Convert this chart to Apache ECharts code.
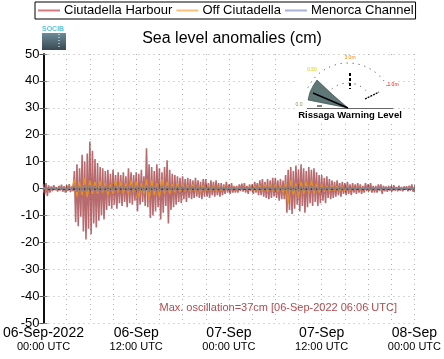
<!DOCTYPE html>
<html><head><meta charset="utf-8">
<script src="https://cdn.jsdelivr.net/npm/echarts@6/dist/echarts.min.js"></script>
<style>html,body{margin:0;padding:0;background:#fff}#c{width:444px;height:359px}</style>
</head><body><div id="c"></div>
<script>
// Series names
const seriesNames = ['Ciutadella Harbour', 'Off Ciutadella', 'Menorca Channel'];
// X tick labels (every 12 h from 06-Sep-2022 00:00 UTC)
const dayLabels = ['06-Sep-2022', '06-Sep', '07-Sep', '07-Sep', '08-Sep'];
const timeLabels = ['00:00 UTC', '12:00 UTC', '00:00 UTC', '12:00 UTC', '00:00 UTC'];
const yTicks = [-50, -40, -30, -20, -10, 0, 10, 20, 30, 40, 50];
// Ciutadella Harbour, cm, one value every 10 min from hour 0
const harbourStepH = 1 / 6;
const harbour = [
 1.5,-2.2,2.0,-2.8,1.2,-1.5,
 0.8,-1.0,1.2,-0.6,0.5,-1.1,
 1.0,-0.8,1.4,-1.2,0.9,-1.5,
 1.2,-0.9,1.6,-1.3,0.8,-1.0,
 6.5,-12.5,9.0,-14.0,7.5,-10.5,
 12.5,-16.0,10.0,-19.0,13.0,-15.0,
 17.5,-17.0,14.0,-13.0,11.0,-14.5,
 9.5,-12.0,8.0,-10.0,7.5,-11.5,
 6.5,-8.0,7.0,-6.5,5.5,-7.5,
 7.0,-6.0,5.0,-7.5,6.0,-5.5,
 5.0,-6.5,6.0,-5.0,4.5,-7.0,
 7.5,-5.5,6.0,-6.0,5.0,-4.5,
 6.0,-8.5,5.5,-6.0,7.0,-5.0,
 4.5,-6.5,15.0,-7.0,9.0,-11.0,
 8.0,-10.0,6.5,-8.5,9.0,-7.0,
 7.5,-11.5,6.0,-9.0,8.0,-6.5,
 10.5,-13.0,7.0,-8.0,5.5,-7.0,
 5.0,-6.0,4.5,-5.0,4.0,-5.5,
 4.5,-4.0,3.5,-5.0,4.0,-3.5,
 3.5,-4.0,3.0,-3.5,4.0,-3.0,
 3.0,-3.5,2.5,-4.0,3.5,-3.0,
 3.5,-3.0,2.0,-3.5,3.0,-2.5,
 2.5,-3.0,3.0,-2.5,2.0,-3.0,
 2.0,-2.5,1.5,-2.0,2.5,-1.5,
 1.5,-2.0,2.0,-1.5,1.0,-1.5,
 1.0,-1.5,1.5,-1.0,1.8,-1.2,
 2.0,-1.5,1.0,-2.0,1.5,-1.0,
 1.5,-2.0,2.5,-1.5,2.0,-2.5,
 3.0,-2.5,3.5,-3.0,2.5,-3.5,
 3.5,-4.0,3.0,-3.5,4.0,-3.0,
 4.0,-3.5,3.0,-4.5,3.5,-4.0,
 3.0,-4.0,5.0,-9.0,7.0,-8.0,
 8.0,-9.5,6.5,-7.5,8.5,-6.0,
 7.0,-8.5,9.0,-6.5,7.5,-9.0,
 6.5,-7.0,8.0,-5.5,7.0,-6.5,
 7.5,-5.0,6.0,-6.5,5.0,-5.5,
 5.0,-4.5,4.0,-5.5,4.5,-3.5,
 3.5,-4.0,3.0,-3.5,2.5,-3.0,
 3.0,-2.5,2.0,-3.0,2.5,-2.0,
 2.0,-2.5,2.5,-2.0,1.5,-2.5,
 2.0,-1.5,1.5,-2.0,2.0,-1.5,
 1.5,-2.0,1.0,-1.5,2.0,-1.0,
 1.5,-1.0,2.0,-1.5,1.0,-1.5,
 1.0,-1.5,1.5,-1.0,1.5,-2.0,
 1.0,-1.0,0.8,-1.2,1.0,-0.8,
 0.8,-1.0,1.2,-0.8,0.6,-1.0,
 1.0,-0.8,0.6,-1.0,0.8,-0.6,
 0.8,-1.0,1.0,-0.8,1.5,-1.2,
 0.5
];
// Off Ciutadella, cm, one value every 20 min
const offStepH = 1 / 3;
const offCiutadella = [
 0.5,-0.6,0.4, -0.3,0.4,-0.5, 0.5,-0.4,0.6, -0.5,0.4,-0.6,
 3.5,-3.0,2.5, -2.5,3.8,-3.2, 3.0,-2.0,2.5, -2.0,2.8,-1.5,
 2.0,-2.5,1.5, -2.0,3.0,-1.5, 2.5,-1.8,2.0, -2.2,3.0,-1.5,
 2.5,-3.5,2.0, -2.0,3.5,-4.0, 3.0,-2.5,2.0, -3.0,3.5,-2.0,
 2.5,-2.0,1.5, -1.5,2.0,-1.2, 1.5,-1.0,1.2, -1.2,1.5,-1.0,
 1.0,-1.5,1.2, -1.0,1.2,-0.8, 1.0,-0.8,0.6, -0.8,0.7,-0.5,
 0.6,-0.5,0.7, -0.6,0.5,-0.4, 0.6,-0.5,0.8, -0.7,1.0,-0.8,
 1.2,-1.0,1.5, -1.2,1.5,-1.0, 1.5,-1.3,1.0, -1.5,1.8,-5.5,
 3.0,-2.5,2.0, -3.0,2.5,-2.0, 2.5,-2.0,3.0, -2.0,1.8,-1.5,
 1.5,-1.2,1.0, -1.0,1.2,-0.8, 0.8,-1.0,0.7, -0.8,0.6,-0.7,
 0.6,-0.5,0.7, -0.6,0.5,-0.4, 0.5,-0.6,0.4, -0.5,0.4,-0.5,
 0.4,-0.3,0.4, -0.4,0.3,-0.4, 0.3,-0.4,0.3, -0.3,0.4,-0.3,
 0.2
];
// Menorca Channel, cm, one value every 20 min
const channelStepH = 1 / 3;
const menorcaChannel = [
 0.2,-0.3,0.3, -0.2,0.2,-0.3, 0.3,-0.2,0.2, -0.3,0.2,-0.2,
 1.0,-1.2,0.8, -1.0,1.3,-0.9, 1.2,-0.8,1.0, -1.0,0.8,-0.7,
 0.8,-0.9,0.6, -0.7,0.9,-0.6, 0.8,-0.6,0.7, -0.8,1.0,-0.6,
 0.9,-1.0,0.7, -0.8,1.1,-1.0, 0.9,-0.8,0.7, -0.9,1.0,-0.7,
 0.8,-0.7,0.6, -0.6,0.7,-0.5, 0.6,-0.5,0.5, -0.5,0.6,-0.4,
 0.5,-0.5,0.4, -0.4,0.5,-0.4, 0.4,-0.3,0.3, -0.3,0.3,-0.2,
 0.2,-0.2,0.3, -0.2,0.2,-0.2, 0.3,-0.2,0.3, -0.3,0.4,-0.3,
 0.4,-0.4,0.5, -0.4,0.5,-0.4, 0.5,-0.5,0.4, -0.5,0.6,-0.9,
 0.9,-0.8,0.8, -0.9,0.8,-0.7, 0.8,-0.7,0.9, -0.7,0.6,-0.6,
 0.5,-0.5,0.4, -0.4,0.5,-0.3, 0.3,-0.4,0.3, -0.3,0.3,-0.3,
 0.3,-0.2,0.3, -0.2,0.2,-0.2, 0.2,-0.3,0.2, -0.2,0.2,-0.2,
 0.2,-0.2,0.2, -0.2,0.2,-0.2, 0.2,-0.2,0.2, -0.2,0.2,-0.2,
 0.1
];
const maxText = 'Max. oscillation=37cm [06-Sep-2022 06:06 UTC]';

const toPairs = (arr, step) => arr.map((v, i) => [i * step, v]);
const FONT = '"Liberation Sans", Arial, sans-serif';

const chart = echarts.init(document.getElementById('c'), null, {renderer: 'canvas'});
const gridLine = {show: true, lineStyle: {color: '#b0b0b0', type: [1, 4], width: 1}};
const option = {
  animation: false,
  textStyle: {fontFamily: FONT},
  title: {text: 'Sea level anomalies (cm)', left: 227, textAlign: 'center', top: 26,
    textStyle: {fontSize: 16, fontWeight: 'normal', color: '#000', fontFamily: FONT}},
  legend: {
    left: 35, top: 2, width: 409,
    borderColor: '#000', borderWidth: 1, padding: [2, 2, 2, 3],
    itemGap: 4, itemWidth: 22, itemHeight: 2, icon: 'rect',
    textStyle: {fontSize: 13, color: '#000', fontFamily: FONT, padding: [0, 0, 0, -1]},
    data: [
      {name: seriesNames[0], itemStyle: {color: '#d27a80'}},
      {name: seriesNames[1], itemStyle: {color: '#f6c078'}},
      {name: seriesNames[2], itemStyle: {color: '#a9b0d6'}}
    ]
  },
  grid: {left: 37.5, right: 29, top: 54, bottom: 36},
  xAxis: [{
    type: 'value', min: 0, max: 48, interval: 3,
    axisLine: {lineStyle: {color: '#000', width: 1.5}},
    axisTick: {inside: true, length: 4, lineStyle: {color: '#888'}},
    splitLine: gridLine,
    axisLabel: {
      margin: 3, interval: 0, showMinLabel: true, showMaxLabel: true,
      formatter: v => (v % 12 === 0) ? '{a|' + dayLabels[v / 12] + '}\n{b|' + timeLabels[v / 12] + '}' : '',
      rich: {
        a: {fontSize: 14, lineHeight: 14, color: '#000', fontFamily: FONT, align: 'center'},
        b: {fontSize: 11, lineHeight: 13, color: '#000', fontFamily: FONT, align: 'center'}
      }
    }
  }, {
    type: 'value', min: 0, max: 48, interval: 3, position: 'top',
    axisLine: {show: true, lineStyle: {color: '#000', width: 1.5}},
    axisTick: {show: true, inside: true, length: 4, lineStyle: {color: '#888'}},
    axisLabel: {show: false}, splitLine: {show: false}
  }],
  yAxis: [{
    type: 'value', min: yTicks[0], max: yTicks[yTicks.length - 1], interval: 10,
    axisLine: {show: true, lineStyle: {color: '#000', width: 1.5}},
    axisTick: {show: true, inside: true, length: 4, lineStyle: {color: '#888'}},
    splitLine: gridLine,
    axisLabel: {fontSize: 13, color: '#000', margin: 4, fontFamily: FONT}
  }, {
    type: 'value', min: yTicks[0], max: yTicks[yTicks.length - 1], interval: 10, position: 'right',
    axisLine: {show: true, lineStyle: {color: '#000', width: 1.5}},
    axisTick: {show: true, inside: true, length: 4, lineStyle: {color: '#555'}},
    axisLabel: {show: false}, splitLine: {show: false}
  }],
  series: [
    {name: seriesNames[0], type: 'line', showSymbol: false, data: toPairs(harbour, harbourStepH),
      lineStyle: {color: 'rgba(155,50,55,0.72)', width: 1.6}, itemStyle: {color: '#d27a80'}, z: 2},
    {name: seriesNames[1], type: 'line', showSymbol: false, data: toPairs(offCiutadella, offStepH),
      lineStyle: {color: '#e8921c', width: 1.3}, itemStyle: {color: '#f6c078'}, z: 3},
    {name: seriesNames[2], type: 'line', showSymbol: false, data: toPairs(menorcaChannel, channelStepH),
      lineStyle: {color: '#83838f', width: 1.6}, itemStyle: {color: '#a9b0d6'}, z: 4}
  ],
  graphic: [
    // SOCIB logo
    {type: 'text', left: 42, top: 26, style: {text: 'SOCIB', fontSize: 7, fill: '#5ec3d6', fontFamily: FONT, fontWeight: 'bold'}},
    {type: 'rect', shape: {x: 42, y: 33, width: 24, height: 17}, style: {fill: new echarts.graphic.LinearGradient(0, 0, 0, 1, [{offset: 0, color: '#6c8c9a'}, {offset: 1, color: '#3a4852'}])}},
    {type: 'line', shape: {x1: 59, y1: 34, x2: 59, y2: 49}, style: {stroke: '#fff', lineDash: [1, 2], lineWidth: 1}},
    // Rissaga warning inset
    {type: 'rect', shape: {x: 297, y: 56, width: 96, height: 66}, style: {fill: '#fff'}, z: 10},
    {type: 'arc', shape: {cx: 348, cy: 108, r: 45, startAngle: Math.PI * 1.15, endAngle: Math.PI * 1.87}, style: {stroke: '#333', lineDash: [1, 5], fill: null, lineWidth: 1}, z: 11},
    {type: 'arc', shape: {cx: 348, cy: 108, r: 25, startAngle: Math.PI * 1.2, endAngle: Math.PI * 1.8}, style: {stroke: '#333', lineDash: [1, 5], fill: null, lineWidth: 1}, z: 11},
    {type: 'polygon', shape: {points: [[348, 108], [308, 100], [310, 92], [313, 86], [317, 80], [333, 95]]}, style: {fill: '#5f7877', stroke: '#2a3a3a', lineWidth: 0.6}, z: 11},
    {type: 'line', shape: {x1: 313, y1: 93, x2: 348, y2: 108}, style: {stroke: '#000', lineWidth: 1.4}, z: 12},
    {type: 'line', shape: {x1: 307, y1: 108.5, x2: 393, y2: 108.5}, style: {stroke: '#666', lineWidth: 1}, z: 11},
    {type: 'line', shape: {x1: 350, y1: 73, x2: 350, y2: 89}, style: {stroke: '#000', lineWidth: 2, lineDash: [3, 2]}, z: 12},
    {type: 'line', shape: {x1: 365, y1: 99, x2: 379, y2: 92}, style: {stroke: '#000', lineWidth: 1.3, lineDash: [2, 1]}, z: 12},
    {type: 'line', shape: {x1: 317, y1: 106, x2: 322, y2: 106}, style: {stroke: '#000', lineWidth: 1}, z: 12},
    {type: 'text', x: 350, y: 58, style: {text: '3.0m', fontSize: 5, fill: '#f08000', align: 'center', verticalAlign: 'middle', fontFamily: FONT}, z: 12},
    {type: 'text', x: 312, y: 70, style: {text: '0.50', fontSize: 5, fill: '#d8d000', align: 'center', verticalAlign: 'middle', fontFamily: FONT}, z: 12},
    {type: 'text', x: 393, y: 85, style: {text: '1.0m', fontSize: 5, fill: '#f01010', align: 'center', verticalAlign: 'middle', fontFamily: FONT}, z: 12},
    {type: 'text', x: 299, y: 105, style: {text: '0.0', fontSize: 5, fill: '#8a9060', align: 'center', verticalAlign: 'middle', fontFamily: FONT}, z: 12},
    {type: 'text', x: 350, y: 115, style: {text: 'Rissaga Warning Level', fontSize: 9.5, fontWeight: 'bold', fill: '#000', align: 'center', verticalAlign: 'middle', fontFamily: FONT}, z: 12},
    // max oscillation note
    {type: 'text', x: 397, y: 308, style: {text: maxText, fontSize: 11, fill: '#b04a4e', align: 'right', verticalAlign: 'middle', fontFamily: FONT}, z: 12}
  ]
};
chart.setOption(option);
</script></body></html>
